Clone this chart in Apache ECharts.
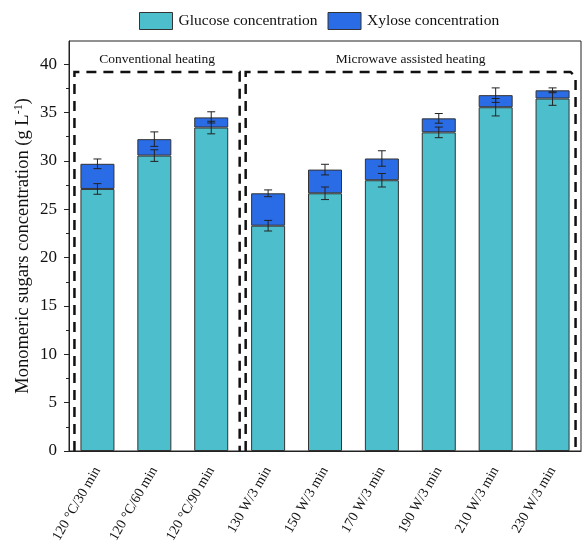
<!DOCTYPE html>
<html>
<head>
<meta charset="utf-8">
<script src="https://cdn.jsdelivr.net/npm/echarts@6/dist/echarts.min.js"></script>
<style>
  html, body { margin: 0; padding: 0; background: #fff; }
  #chart { width: 582px; height: 541px; }
</style>
</head>
<body>
<div id="chart"></div>
<script>
// Pretreatment conditions
const categories = ['120 °C/30 min', '120 °C/60 min', '120 °C/90 min',
  '130 W/3 min', '150 W/3 min', '170 W/3 min', '190 W/3 min', '210 W/3 min', '230 W/3 min'];
// Sugar concentrations (g/L) and their standard deviations
const glucose    = [27.1, 30.55, 33.45, 23.3, 26.65, 28.0, 32.95, 35.55, 36.45];
const xylose     = [2.6, 1.7, 1.05, 3.35, 2.45, 2.25, 1.45, 1.25, 0.85];
const glucoseErr = [0.55, 0.6, 0.65, 0.55, 0.65, 0.7, 0.55, 0.9, 0.7];
const xyloseErr  = [0.5, 0.75, 0.58, 0.35, 0.55, 0.8, 0.5, 0.75, 0.25];
const yTicks      = [0, 5, 10, 15, 20, 25, 30, 35, 40];
const yMinorTicks = [2.5, 7.5, 12.5, 17.5, 22.5, 27.5, 32.5, 37.5];

const FONT = '"Liberation Serif", "Times New Roman", serif';
const GLUCOSE_COLOR = '#4DBFCC';
const XYLOSE_COLOR = '#2A6CE6';

// Error bar rows: [category index, centre value, deviation]
const errRows = [];
glucose.forEach((g, i) => errRows.push([i, g, glucoseErr[i]]));
xylose.forEach((x, i) => errRows.push([i, glucose[i] + x, xyloseErr[i]]));

function renderErrorBar(params, api) {
  const i = api.value(0), c = api.value(1), e = api.value(2);
  const top = api.coord([i, c + e]);
  const bot = api.coord([i, c - e]);
  const cap = 4;
  const style = { stroke: '#222', lineWidth: 1 };
  return {
    type: 'group',
    children: [
      { type: 'line', shape: { x1: top[0], y1: top[1], x2: bot[0], y2: bot[1] }, style },
      { type: 'line', shape: { x1: top[0] - cap, y1: top[1], x2: top[0] + cap, y2: top[1] }, style },
      { type: 'line', shape: { x1: bot[0] - cap, y1: bot[1], x2: bot[0] + cap, y2: bot[1] }, style }
    ]
  };
}

const chart = echarts.init(document.getElementById('chart'));
chart.setOption({
  animation: false,
  backgroundColor: '#fff',
  textStyle: { fontFamily: FONT },
  legend: {
    left: 139, top: 12, padding: 0,
    icon: 'rect',
    itemWidth: 33, itemHeight: 17, itemGap: 10,
    itemStyle: { borderColor: '#333', borderWidth: 1 },
    textStyle: { fontFamily: FONT, fontSize: 15.5, color: '#111', padding: [0, 0, 0, 1] },
    data: ['Glucose concentration', 'Xylose concentration']
  },
  grid: {
    left: 69, right: 1, top: 41, bottom: 90,
    outerBoundsMode: 'none',
    show: true, borderColor: '#222', borderWidth: 1, backgroundColor: 'transparent'
  },
  xAxis: {
    type: 'category',
    data: categories,
    axisLine: { lineStyle: { color: '#222', width: 1 } },
    axisTick: { show: false },
    axisLabel: { rotate: 60, fontFamily: FONT, fontSize: 14, color: '#111', margin: 17, interval: 0 }
  },
  yAxis: [{
    type: 'value', min: 0, max: 42.4, interval: 5,
    name: 'Monomeric sugars concentration (g L{sup|-1})',
    nameLocation: 'middle', nameGap: 36, nameMoveOverlap: false,
    nameTextStyle: {
      fontFamily: FONT, fontSize: 18.5, color: '#111',
      rich: { sup: { fontFamily: FONT, fontSize: 12, verticalAlign: 'top', padding: [0, 0, 8, 0] } }
    },
    axisLine: { show: true, lineStyle: { color: '#222', width: 1 } },
    axisTick: { show: true, length: 5, customValues: yTicks, lineStyle: { color: '#222' } },
    axisLabel: { customValues: yTicks, fontFamily: FONT, fontSize: 17, color: '#111', margin: 12 },
    splitLine: { show: false }
  }, {
    type: 'value', min: 0, max: 42.4, position: 'left',
    axisLine: { show: false },
    axisTick: { show: true, length: 3, customValues: yMinorTicks, lineStyle: { color: '#222' } },
    axisLabel: { show: false },
    splitLine: { show: false }
  }],
  series: [{
    name: 'Glucose concentration', type: 'bar', stack: 'sugar', barWidth: 34,
    data: glucose,
    itemStyle: { color: GLUCOSE_COLOR, borderColor: '#333', borderWidth: 1 }
  }, {
    name: 'Xylose concentration', type: 'bar', stack: 'sugar', barWidth: 34,
    data: xylose,
    itemStyle: { color: XYLOSE_COLOR, borderColor: '#333', borderWidth: 1 }
  }, {
    name: 'error', type: 'custom', z: 10,
    renderItem: renderErrorBar,
    encode: { x: 0, y: 1 },
    data: errRows
  }]
});

// Dashed frames grouping the two heating methods, placed from the axes
const yTop = chart.convertToPixel({ yAxisIndex: 0 }, 39.2);
const yBase = chart.convertToPixel({ yAxisIndex: 0 }, 0);
const cx = i => chart.convertToPixel({ xAxisIndex: 0 }, i);
const split = (cx(2) + cx(3)) / 2;
const leftEdge = cx(0) - 23;
const rightEdge = cx(8) + 23;
const dash = { stroke: '#111', lineWidth: 2.5, lineDash: [10, 7], fill: null };

chart.setOption({
  graphic: [
    { type: 'polyline', silent: true, z: 20,
      shape: { points: [[leftEdge, yBase], [leftEdge, yTop], [split, yTop], [split, yBase]] }, style: dash },
    { type: 'polyline', silent: true, z: 20,
      shape: { points: [[split + 6, yBase], [split + 6, yTop], [rightEdge - 5, yTop], [rightEdge, yTop + 5], [rightEdge, yBase]] }, style: dash },
    { type: 'text', silent: true, z: 20, x: (leftEdge + split) / 2, y: 59,
      style: { text: 'Conventional heating', font: '13.5px ' + FONT, fill: '#111', align: 'center', verticalAlign: 'middle' } },
    { type: 'text', silent: true, z: 20, x: (split + 6 + rightEdge) / 2, y: 59,
      style: { text: 'Microwave assisted heating', font: '13.5px ' + FONT, fill: '#111', align: 'center', verticalAlign: 'middle' } }
  ]
});
</script>
</body>
</html>
